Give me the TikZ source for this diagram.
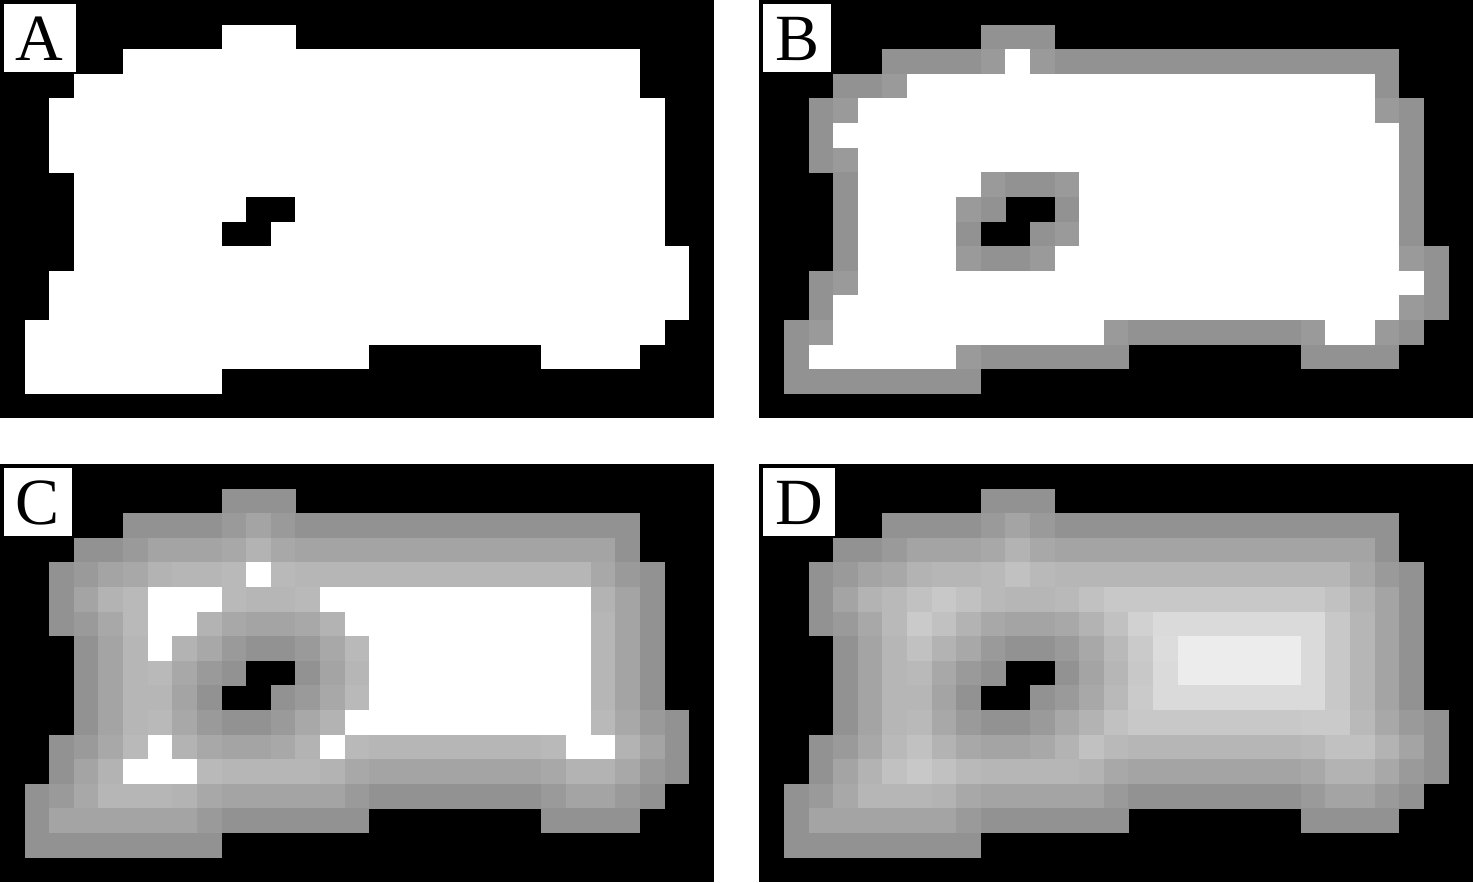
\documentclass[tikz,border=0pt]{standalone}
\usepackage{fontspec}
\setmainfont{Liberation Serif}

% object of panel A as runs of pixels: row/first column/last column
\def\objectruns{1/9/11, 2/5/25, 3/3/25, 4/2/26, 5/2/26, 6/2/26, 7/3/26,
  8/3/9, 8/12/26, 9/3/8, 9/11/26, 10/3/27, 11/2/27, 12/2/27, 13/1/26,
  14/1/14, 14/22/25, 15/1/8}

% pixel grid 29 x 17, background first
\foreach \yy in {0,...,16}{
  \foreach \xx in {0,...,28}{
    \expandafter\gdef\csname px-\yy-\xx\endcsname{0}}}
\foreach \yy/\xa/\xb in \objectruns{
  \foreach \xx in {\xa,...,\xb}{
    \expandafter\gdef\csname px-\yy-\xx\endcsname{1}}}

% background pixels
\gdef\bglist{}
\foreach \yy in {0,...,16}{
  \foreach \xx in {0,...,28}{
    \ifnum\csname px-\yy-\xx\endcsname=0
      \xdef\bglist{\unexpanded\expandafter{\bglist}\noexpand\bgpx{\yy}{\xx}}
    \fi}}

% squared distance to nearest background pixel, and its grey
\newcount\dmin
\newcount\dsq
\def\bgpx#1#2{%
  \dsq=\numexpr(#1-\dtrow)*(#1-\dtrow)+(#2-\dtcol)*(#2-\dtcol)\relax
  \ifnum\dsq<\dmin \dmin=\dsq\fi}
\foreach \yy in {0,...,16}{
  \foreach \xx in {0,...,28}{
    \ifnum\csname px-\yy-\xx\endcsname=1
      \dmin=10000
      \edef\dtrow{\yy}\edef\dtcol{\xx}%
      \bglist
      \expandafter\xdef\csname dd-\yy-\xx\endcsname{\the\dmin}%
      \pgfmathsetmacro\gv{(128+18*sqrt(\the\dmin))/255}%
      \expandafter\xdef\csname gv-\yy-\xx\endcsname{\gv}%
    \fi}}

% one panel: shift, largest squared distance shown in grey
\newcommand\drawpanel[3]{%
  \begin{scope}[shift={(#1,#2)}]
    \fill[black] (0,0) rectangle (29,17);
    \foreach \yy in {0,...,16}{
      \foreach \xx in {0,...,28}{
        \ifnum\csname px-\yy-\xx\endcsname=1
          \ifnum\csname dd-\yy-\xx\endcsname>#3
            \fill[white] (\xx,\yy) rectangle ++(1.01,1.01);
          \else
            \definecolor{pxgrey}{gray}{\csname gv-\yy-\xx\endcsname}%
            \fill[pxgrey] (\xx,\yy) rectangle ++(1.01,1.01);
          \fi
        \fi}}
  \end{scope}}

\tikzset{panellabel/.style={fill=white, anchor=north west, inner xsep=6pt,
    inner ysep=6pt, text height=22pt, text depth=0pt,
    font=\fontsize{33}{33}\selectfont}}

\begin{document}
\begin{tikzpicture}[x=12.306pt, y=-12.306pt]
  \fill[white] (0,0) rectangle (59.85,35.85);
  \useasboundingbox (0,0) rectangle (59.85,35.85);

  % A: binary object
  \drawpanel{0}{0}{0}
  \node[panellabel] (labA) at (0.14,0.16) {A};

  % B: first layer
  \drawpanel{30.85}{0}{2}
  \node[panellabel] (labB) at (30.99,0.16) {B};

  % C: three layers
  \drawpanel{0}{18.85}{10}
  \node[panellabel] (labC) at (0.14,19.01) {C};

  % D: full distance map
  \drawpanel{30.85}{18.85}{10000}
  \node[panellabel] (labD) at (30.99,19.01) {D};
\end{tikzpicture}
\end{document}
